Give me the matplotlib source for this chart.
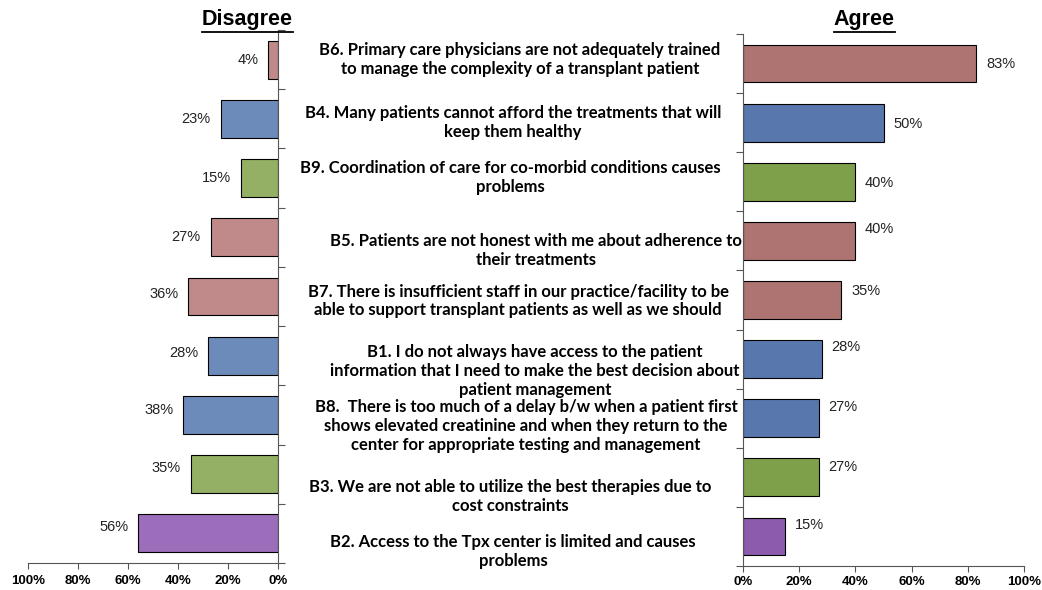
import matplotlib.pyplot as plt
from matplotlib.lines import Line2D
from matplotlib.ticker import FuncFormatter
import numpy as np

items = [
    'B6. Primary care physicians are not adequately trained\nto manage the complexity of a transplant patient',
    'B4. Many patients cannot afford the treatments that will\nkeep them healthy',
    'B9. Coordination of care for co-morbid conditions causes\nproblems',
    'B5. Patients are not honest with me about adherence to\ntheir treatments',
    'B7. There is insufficient staff in our practice/facility to be\nable to support transplant patients as well as we should',
    'B1. I do not always have access to the patient\ninformation that I need to make the best decision about\npatient management',
    'B8.  There is too much of a delay b/w when a patient first\nshows elevated creatinine and when they return to the\ncenter for appropriate testing and management',
    'B3. We are not able to utilize the best therapies due to\ncost constraints',
    'B2. Access to the Tpx center is limited and causes\nproblems',
]
disagree = [4, 23, 15, 27, 36, 28, 38, 35, 56]
agree = [83, 50, 40, 40, 35, 28, 27, 27, 15]
group = ['red', 'blue', 'green', 'red', 'red', 'blue', 'blue', 'green', 'purple']

left_colors = {'red': '#C08A8A', 'blue': '#6D8BBA', 'green': '#94B064', 'purple': '#9B6DBA'}
right_colors = {'red': '#AD7472', 'blue': '#5878AD', 'green': '#7FA04B', 'purple': '#8C5BAD'}

# small nudges (pixels) copied from the original layout
left_lab_dy = [0, 0, 0, 0, -3, -3, -5, -6, -6]
right_lab_dy = [0, 1, 1, -12, -9, -12, -11, -10, -11]
item_dx = [2, -5, -8, 18, 0, 17, 8, -8, -5]
item_dy = [-4, 0, -4, 10, 1, 12, 8, 19, 15]

W, H = 1042, 590
fig = plt.figure(figsize=(W / 100, H / 100), dpi=100)
axL = fig.add_axes([28 / W, 1 - 563 / H, 250 / W, 533 / H])
axR = fig.add_axes([743 / W, 1 - 566 / H, 281 / W, 532 / H])

n = len(items)
y = np.arange(n)
pct = FuncFormatter(lambda v, p: f'{v:.0f}%')
px = 0.72  # points per pixel

axL.barh(y, disagree, height=0.64, color=[left_colors[g] for g in group],
         edgecolor='black', linewidth=0.8)
axR.barh(y, agree, height=0.64, color=[right_colors[g] for g in group],
         edgecolor='black', linewidth=0.8)

for i in range(n):
    axL.annotate(f'{disagree[i]}%', xy=(disagree[i], y[i]), xytext=(-7, -left_lab_dy[i] * px),
                 textcoords='offset points', ha='right', va='center',
                 fontsize=10.5, family='Liberation Sans', color='#222222')
    axR.annotate(f'{agree[i]}%', xy=(agree[i], y[i]), xytext=(7, -right_lab_dy[i] * px),
                 textcoords='offset points', ha='left', va='center',
                 fontsize=10.5, family='Liberation Sans', color='#222222')
    axR.annotate(items[i], xy=(0, y[i]), xycoords=('axes fraction', 'data'),
                 xytext=((518 - 743 + item_dx[i]) * px, -item_dy[i] * px),
                 textcoords='offset points', ha='center', va='center',
                 fontsize=12, family='Lato', fontweight='bold',
                 linespacing=1.22, color='black')

for ax in (axL, axR):
    ax.set_ylim(n - 0.5, -0.5)
    ax.set_xticks([0, 20, 40, 60, 80, 100])
    ax.xaxis.set_major_formatter(pct)
    ax.set_yticks(np.arange(n + 1) - 0.5)
    ax.set_yticklabels([])
    ax.tick_params(axis='y', length=5, width=0.8, color='#555555')
    ax.tick_params(axis='x', length=4, width=0.8, color='#555555', pad=5)
    for lab in ax.get_xticklabels():
        lab.set_fontweight('bold')
        lab.set_fontsize(9.5)
        lab.set_family('Liberation Sans')
    ax.spines['top'].set_visible(False)
    for s in ax.spines.values():
        s.set_color('#555555')
        s.set_linewidth(0.8)

axL.set_xlim(100, 0)
axL.yaxis.tick_right()
axL.spines['left'].set_visible(False)
axR.set_xlim(0, 100)
axR.spines['right'].set_visible(False)
axR.tick_params(axis='x', pad=3)

tL = fig.text(247 / W, 1 - 20 / H, 'Disagree', ha='center', va='center',
              fontsize=15.5, fontweight='bold', family='Liberation Sans')
tR = fig.text(864 / W, 1 - 20 / H, 'Agree', ha='center', va='center',
              fontsize=15.5, fontweight='bold', family='Liberation Sans')

# underline titles
fig.canvas.draw()
for t in (tL, tR):
    bb = t.get_window_extent()
    yline = (H - 32) / H
    fig.add_artist(Line2D([bb.x0 / W, bb.x1 / W], [yline, yline],
                          transform=fig.transFigure, color='black', linewidth=1.3))

fig.savefig('out.png', dpi=100)
